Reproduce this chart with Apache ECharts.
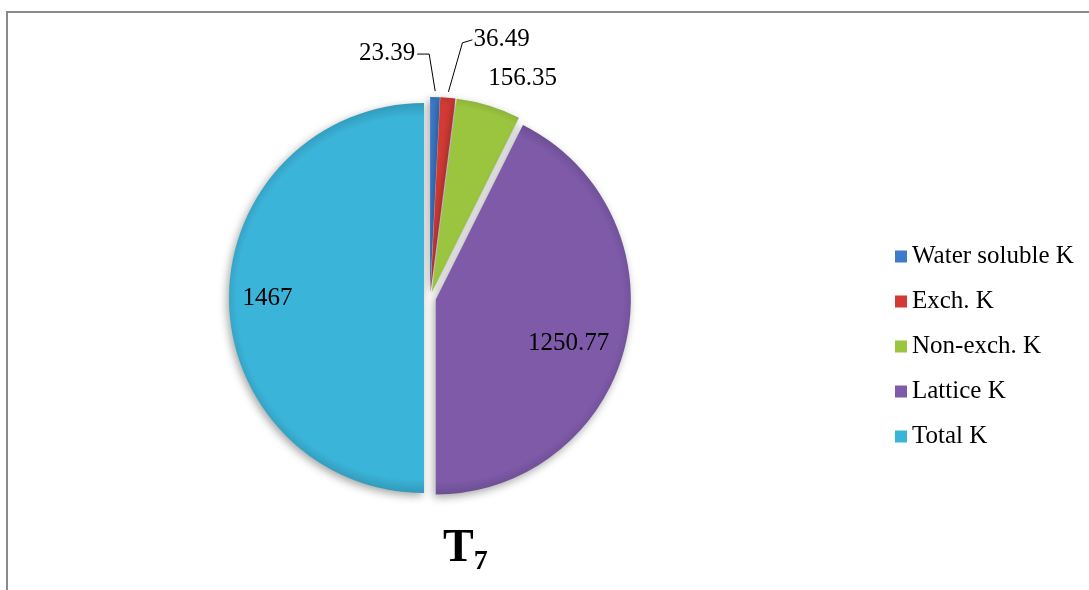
<!DOCTYPE html>
<html><head><meta charset="utf-8">
<script src="https://cdn.jsdelivr.net/npm/echarts/dist/echarts.min.js"></script>
<style>html,body{margin:0;padding:0;background:#fff}#c{width:1089px;height:590px}</style>
</head><body><div id="c"></div>
<script>
const categories = ['Water soluble K', 'Exch. K', 'Non-exch. K', 'Lattice K', 'Total K'];
const values = [23.39, 36.49, 156.35, 1250.77, 1467];
const colors = ['#3d7bcc', '#d33a35', '#9bc43f', '#7e5aa9', '#3bb4d9'];
const titleMain = 'T';
const titleSub = '7';

const CX = 430, CY = 298, R = 195, OFF = 6;
const FONT = 'Liberation Serif, Times New Roman, serif';
const total = values.reduce((a, b) => a + b, 0);
function midAngle(i) { let s = 0; for (let k = 0; k < i; k++) s += values[k]; return (s + values[i] / 2) / total * 2 * Math.PI; }
function edgePoint(i) { const a = midAngle(i); return [CX + (R + OFF) * Math.sin(a), CY - (R + OFF) * Math.cos(a)]; }
function shade(hex, f) {
  const n = parseInt(hex.slice(1), 16);
  const ch = [(n >> 16) & 255, (n >> 8) & 255, n & 255].map(v => Math.max(0, Math.min(255, Math.round(f < 0 ? v * (1 + f) : v + (255 - v) * f))));
  return 'rgb(' + ch.join(',') + ')';
}
function fillFor(i) {
  const a = midAngle(i);
  return {
    type: 'radial', global: true, x: CX + OFF * Math.sin(a), y: CY - OFF * Math.cos(a), r: R,
    colorStops: [{offset: 0, color: colors[i]}, {offset: 0.93, color: colors[i]}, {offset: 1, color: shade(colors[i], -0.15)}]
  };
}

const chart = echarts.init(document.getElementById('c'), null, {renderer: 'canvas'});
chart.setOption({
  animation: false,
  backgroundColor: '#fff',
  graphic: [{
    type: 'rect', shape: {x: 7, y: 12, width: 1200, height: 700},
    style: {fill: 'none', stroke: '#8a8a8a', lineWidth: 2}, silent: true, z: -1
  }],
  title: {
    text: '{t|' + titleMain + '}{s|' + titleSub + '}',
    left: 443, top: 526, padding: 0,
    textStyle: {
      rich: {
        t: {fontFamily: FONT, fontWeight: 'bold', fontSize: 46, color: '#000', lineHeight: 50, verticalAlign: 'top'},
        s: {fontFamily: FONT, fontWeight: 'bold', fontSize: 28, color: '#000', lineHeight: 15, verticalAlign: 'bottom'}
      }
    }
  },
  legend: {
    orient: 'vertical', left: 895, top: 244, padding: 0, icon: 'rect', itemWidth: 12, itemHeight: 12, itemGap: 20,
    selectedMode: false,
    data: categories.map((n, i) => ({name: n, itemStyle: {color: colors[i]}})),
    textStyle: {fontFamily: FONT, fontSize: 25, color: '#000', lineHeight: 24}
  },
  series: [{
    type: 'pie', center: [CX, CY], radius: R, startAngle: 90, clockwise: true,
    selectedMode: 'multiple', selectedOffset: OFF, avoidLabelOverlap: false,
    emphasis: {scale: false},
    itemStyle: {shadowBlur: 8, shadowColor: 'rgba(0,0,0,0.35)', shadowOffsetX: -2, shadowOffsetY: 3},
    label: {show: true, position: 'outside', formatter: '{c}', fontFamily: FONT, fontSize: 25, color: '#000'},
    labelLine: {show: true, length: 10, length2: 10, lineStyle: {color: '#000', width: 1}},
    labelLayout: function (p) {
      const i = p.dataIndex, r = p.labelRect;
      const cy = r.y + r.height / 2;
      if (i === 0) {
        const e = edgePoint(0), a = [e[0] - 6, e[1] - 37], b = [a[0] - 12, a[1]];
        return {dx: (b[0] - 2) - (r.x + r.width), dy: (b[1] - 1) - cy, labelLinePoints: [e, a, b]};
      }
      if (i === 1) {
        const e = edgePoint(1), a = [e[0] + 14, e[1] - 49], b = [a[0] + 10, a[1] - 3];
        return {dx: (b[0] + 1) - r.x, dy: b[1] - cy, labelLinePoints: [e, a, b]};
      }
      if (i === 2) {
        const e = edgePoint(2);
        return {dx: (e[0] - 2) - r.x, dy: (e[1] - 22) - cy};
      }
      if (i === 3) return {dx: 35, dy: 21};
      if (i === 4) return {dx: -56, dy: 0};
    },
    data: categories.map((n, i) => ({
      name: n, value: values[i], selected: true,
      itemStyle: {color: fillFor(i)},
      label: i >= 3 ? {position: 'inside'} : undefined,
      labelLine: i >= 2 ? {show: false} : undefined
    }))
  }],
  color: colors
});
</script></body></html>
